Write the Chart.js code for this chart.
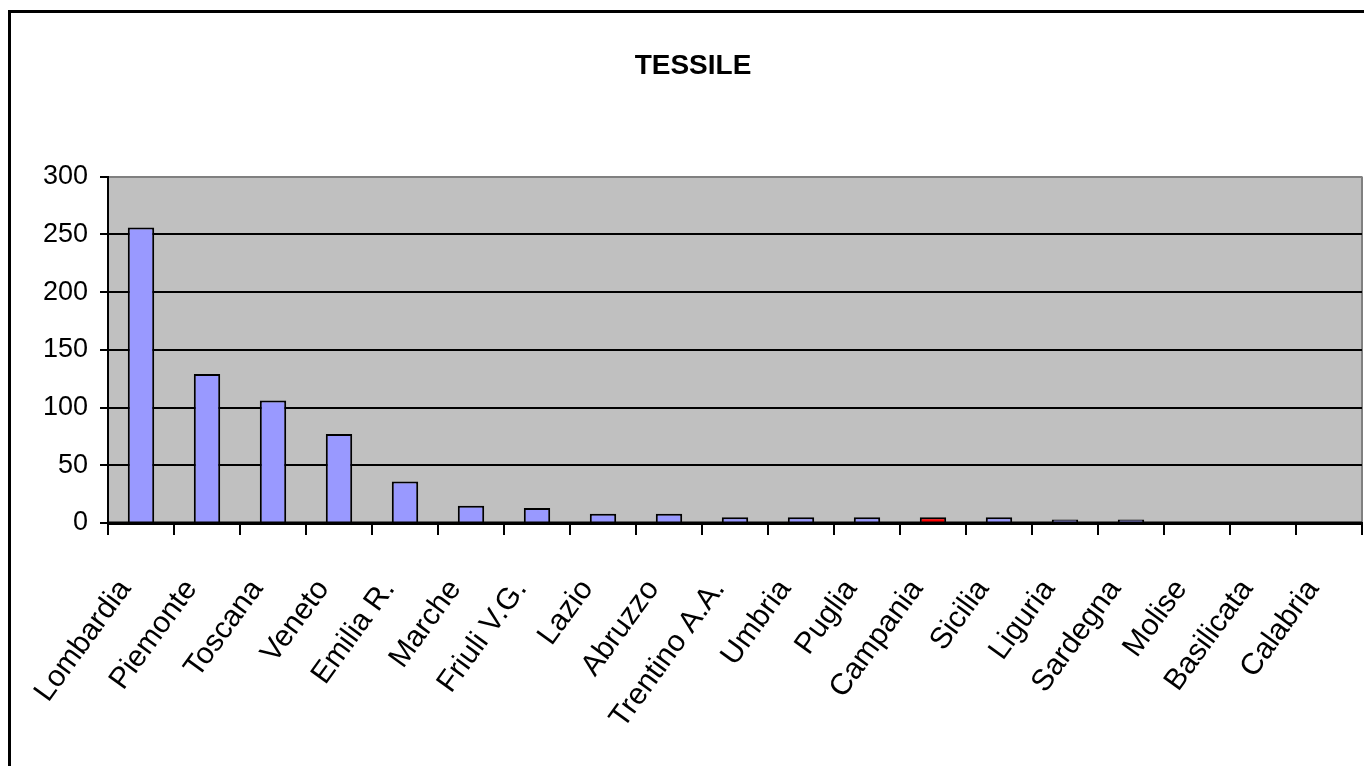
<!DOCTYPE html>
<html>
<head>
<meta charset="utf-8">
<script src="https://cdn.jsdelivr.net/npm/chart.js@4"></script>
<style>
  html, body { margin: 0; padding: 0; background: #fff; }
  #wrap { position: relative; width: 1364px; height: 766px; }
</style>
</head>
<body>
<div id="wrap"><canvas id="tessileChart"></canvas></div>
<script>
const regioni = ['Lombardia', 'Piemonte', 'Toscana', 'Veneto', 'Emilia R.', 'Marche', 'Friuli V.G.', 'Lazio', 'Abruzzo',
  'Trentino A.A.', 'Umbria', 'Puglia', 'Campania', 'Sicilia', 'Liguria', 'Sardegna', 'Molise', 'Basilicata', 'Calabria'];
const valori = [256, 129, 106, 77, 36, 15, 13, 8, 8, 5, 5, 5, 5, 5, 3, 3, 0, 0, 0];
const coloriBarre = regioni.map(r => r === 'Campania' ? '#FF0000' : '#9999FF');
const yTicks = [0, 50, 100, 150, 200, 250, 300];

// sfondo grigio dell'area del grafico + cornice esterna
const sfondo = {
  id: 'sfondo',
  beforeDraw(chart) {
    const { ctx, chartArea: a } = chart;
    ctx.save();
    ctx.fillStyle = '#C0C0C0';
    ctx.fillRect(a.left, a.top, a.right - a.left, a.bottom - a.top);
    ctx.strokeStyle = '#808080';
    ctx.lineWidth = 2;
    ctx.beginPath();
    ctx.moveTo(a.right, a.top);
    ctx.lineTo(a.right, a.bottom);
    ctx.stroke();
    // cornice
    ctx.strokeStyle = '#000';
    ctx.lineWidth = 3;
    ctx.beginPath();
    ctx.moveTo(9.5, 766);
    ctx.lineTo(9.5, 11.5);
    ctx.lineTo(1364, 11.5);
    ctx.stroke();
    ctx.restore();
  },
  // l'asse x copre la base delle barre
  afterDatasetsDraw(chart) {
    const { ctx, chartArea: a } = chart;
    ctx.save();
    ctx.strokeStyle = '#000';
    ctx.lineWidth = 3;
    ctx.beginPath();
    ctx.moveTo(a.left, a.bottom);
    ctx.lineTo(a.right, a.bottom);
    ctx.stroke();
    ctx.restore();
  }
};

new Chart(document.getElementById('tessileChart'), {
  type: 'bar',
  data: {
    labels: regioni,
    datasets: [{
      data: valori,
      backgroundColor: coloriBarre,
      borderColor: '#000',
      borderWidth: 2,
      borderSkipped: 'start',
      barPercentage: 0.8,
      categoryPercentage: 0.5
    }]
  },
  options: {
    responsive: true,
    maintainAspectRatio: false,
    animation: false,
    layout: { padding: { left: 24, right: 2, top: 0, bottom: 0 } },
    plugins: {
      legend: { display: false },
      tooltip: { enabled: false },
      title: {
        display: true,
        text: 'TESSILE',
        color: '#000',
        font: { family: "'Liberation Sans', Arial, sans-serif", size: 28, weight: 'bold' },
        padding: { top: 49, bottom: 94 }
      }
    },
    scales: {
      x: {
        afterFit(scale) {
          scale.height = 243;
          scale.paddingLeft = 0;
          scale.paddingRight = 0;
        },
        grid: {
          offset: true,
          drawOnChartArea: false,
          drawTicks: true,
          tickLength: 12,
          color: '#000',
          lineWidth: 2
        },
        border: { display: true, color: '#000', width: 3 },
        ticks: {
          color: '#000',
          minRotation: 54,
          maxRotation: 54,
          autoSkip: false,
          padding: 38,
          labelOffset: -16,
          font: { family: "'Liberation Sans', Arial, sans-serif", size: 30 }
        }
      },
      y: {
        min: 0,
        max: 300,
        afterFit(scale) { scale.width = 84; },
        afterBuildTicks(scale) { scale.ticks = yTicks.map(v => ({ value: v })); },
        grid: {
          color: ctx => ctx.tick && ctx.tick.value === 300 ? '#808080' : '#000',
          lineWidth: 2,
          tickLength: 8,
          tickColor: '#000'
        },
        border: { display: true, color: '#000', width: 2 },
        ticks: {
          color: '#000',
          padding: 12,
          font: { family: "'Liberation Sans', Arial, sans-serif", size: 27 }
        }
      }
    }
  },
  plugins: [sfondo]
});
</script>
</body>
</html>
